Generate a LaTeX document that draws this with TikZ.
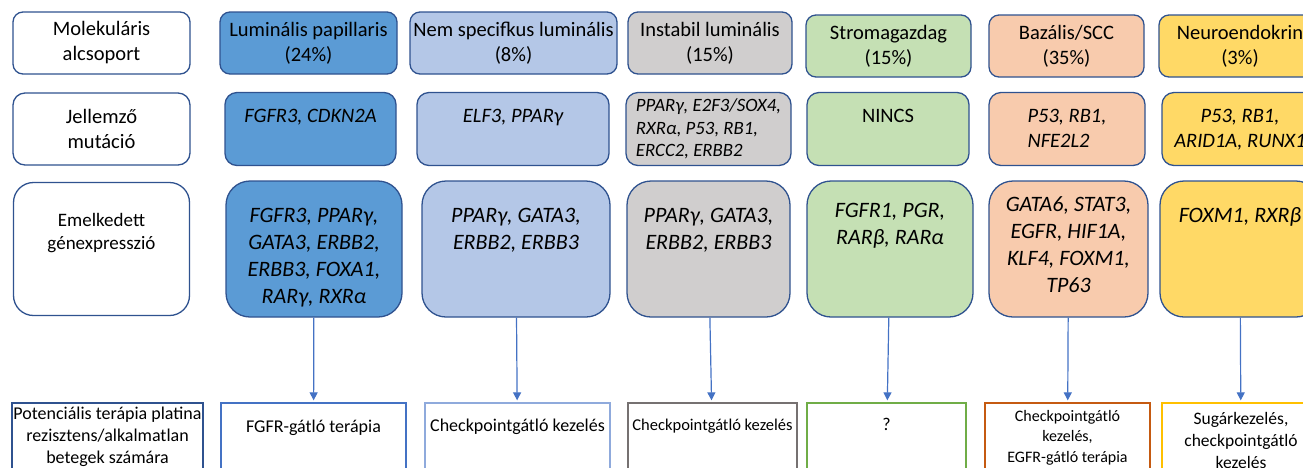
\documentclass[tikz,border=0pt]{standalone}
\usepackage{fontspec}
\setmainfont{Carlito}
\usepackage{xcolor}
\usetikzlibrary{positioning,arrows.meta}

\definecolor{edgeblue}{HTML}{2F528F}
\definecolor{arrowblue}{HTML}{4472C4}
\definecolor{lpfill}{HTML}{5B9BD5}
\definecolor{nsfill}{HTML}{B4C7E7}
\definecolor{ilfill}{HTML}{D0CECE}
\definecolor{sgfill}{HTML}{C5E0B4}
\definecolor{bsfill}{HTML}{F8CBAD}
\definecolor{nefill}{HTML}{FFD966}
\definecolor{lpedge}{HTML}{4472C4}
\definecolor{nsedge}{HTML}{8FAADC}
\definecolor{iledge}{HTML}{767171}
\definecolor{sgedge}{HTML}{70AD47}
\definecolor{bsedge}{HTML}{C55A11}
\definecolor{needge}{HTML}{FFC000}

% lines hanging from the first baseline
\newcommand{\ctext}[1]{\begin{tabular}[t]{@{}c@{}}#1\end{tabular}}
\newcommand{\ltext}[1]{\begin{tabular}[t]{@{}l@{}}#1\end{tabular}}

\begin{document}
\begin{tikzpicture}[node distance=10pt,on grid,
    box/.style={draw=edgeblue,line width=1.3pt,inner sep=0pt,align=center},
    lab/.style={box,fill=white,minimum width=177pt,font=\fontsize{20.5}{25}\selectfont},
    grp/.style={box,rounded corners=10pt,minimum height=62pt,font=\fontsize{20.5}{25}\selectfont},
    mut/.style={box,rounded corners=12pt,text height=30pt,text depth=43pt,font=\fontsize{20.5}{24.5}\selectfont\itshape},
    expr/.style={box,rounded corners=24pt,text height=41pt,text depth=95pt,font=\fontsize{22}{27}\selectfont\itshape},
    ther/.style={draw,line width=1.3pt,inner sep=0pt,align=center,text height=28pt,text depth=62pt,font=\fontsize{18}{22}\selectfont},
    arr/.style={color=arrowblue,line width=1.2pt,-{Triangle[width=8pt,length=8pt]},shorten >=2pt}]
  \useasboundingbox (0,0) rectangle (1303pt,-467pt);
  % subgroups
  \node[grp,lab] (lab1) at (101.5pt,-43pt) {Molekuláris\\alcsoport};
  \node[grp,fill=lpfill,minimum width=177pt,right=207pt of lab1] (lp1) {Luminális papillaris\\(24\%)};
  \node[grp,fill=nsfill,minimum width=207pt,right=205pt of lp1] (ns1) {Nem specifkus luminális\\(8\%)};
  \node[grp,fill=ilfill,minimum width=164pt,right=196.5pt of ns1] (il1) {Instabil luminális\\(15\%)};
  \node[grp,fill=sgfill,minimum width=165pt,right=178.5pt of il1,yshift=-3pt] (sg1) {Stromagazdag\\(15\%)};
  \node[grp,fill=bsfill,minimum width=155pt,right=178pt of sg1] (bs1) {Bazális/SCC\\(35\%)};
  \node[grp,fill=nefill,minimum width=162pt,right=173.5pt of bs1] (ne1) {Neuroendokrin\\(3\%)};
  % mutations
  \node[lab,rounded corners=12pt,minimum height=72pt,below=86pt of lab1] (lab2) {Jellemző\\mutáció};
  \node[mut,fill=lpfill,minimum width=171pt,right=209pt of lab2] (lp2) {FGFR3, CDKN2A};
  \node[mut,fill=nsfill,minimum width=192pt,right=202.5pt of lp2] (ns2) {ELF3, PPARγ};
  \node[mut,fill=ilfill,minimum width=165pt,text height=19pt,text depth=54pt,font=\fontsize{18.8}{22.5}\selectfont\itshape,right=195.5pt of ns2] (il2) {\ltext{PPARγ, E2F3/SOX4,\\RXRα, P53, RB1,\\ERCC2, ERBB2}};
  \node[mut,fill=sgfill,minimum width=162pt,font=\fontsize{20.5}{24.5}\selectfont,right=179.5pt of il2] (sg2) {NINCS};
  \node[mut,fill=bsfill,minimum width=156pt,right=179pt of sg2] (bs2) {\ltext{P53, RB1,\\NFE2L2}};
  \node[mut,fill=nefill,minimum width=156pt,right=173pt of bs2] (ne2) {\ctext{P53, RB1,\\ARID1A, RUNX1}};
  % expression
  \node[lab,rounded corners=20pt,minimum width=176pt,text height=44pt,text depth=89pt,font=\fontsize{19}{23}\selectfont,below=120pt of lab2] (lab3) {\ctext{Emelkedett\\génexpresszió}};
  \node[expr,fill=lpfill,minimum width=176pt,right=212.5pt of lab3] (lp3) {\ctext{FGFR3, PPARγ,\\GATA3, ERBB2,\\ERBB3, FOXA1,\\RARγ, RXRα}};
  \node[expr,fill=nsfill,minimum width=188pt,right=202pt of lp3] (ns3) {\ctext{PPARγ, GATA3,\\ERBB2, ERBB3}};
  \node[expr,fill=ilfill,minimum width=163pt,right=192.5pt of ns3] (il3) {\ctext{PPARγ, GATA3,\\ERBB2, ERBB3}};
  \node[expr,fill=sgfill,minimum width=166pt,text height=36pt,text depth=100pt,right=181.5pt of il3] (sg3) {\ctext{FGFR1, PGR,\\RARβ, RARα}};
  \node[expr,fill=bsfill,minimum width=159pt,text height=30pt,text depth=106pt,right=178.5pt of sg3] (bs3) {\ctext{GATA6, STAT3,\\EGFR, HIF1A,\\KLF4, FOXM1,\\TP63}};
  \node[expr,fill=nefill,minimum width=160pt,right=171.5pt of bs3] (ne3) {FOXM1, RXRβ};
  % therapy
  \node[ther,draw=edgeblue,line width=2pt,minimum width=191pt,text height=16pt,text depth=74pt,below=199pt of lab3,xshift=6pt] (lab4) {\ctext{Potenciális terápia platina\\rezisztens/alkalmatlan\\betegek számára}};
  \node[ther,draw=lpedge,minimum width=185pt,text height=29pt,text depth=61pt,right=206pt of lab4] (lp4) {FGFR-gátló terápia};
  \node[ther,draw=nsedge,minimum width=185pt,right=204pt of lp4] (ns4) {Checkpointgátló kezelés};
  \node[ther,draw=iledge,minimum width=169pt,text height=27pt,text depth=63pt,font=\fontsize{16.5}{20}\selectfont,right=195pt of ns4] (il4) {Checkpointgátló kezelés};
  \node[ther,draw=sgedge,minimum width=159pt,text height=27pt,text depth=63pt,right=174pt of il4] (sg4) {?};
  \node[ther,draw=bsedge,minimum width=165pt,text height=18pt,text depth=72pt,font=\fontsize{16}{20.5}\selectfont,right=181pt of sg4] (bs4) {\ctext{Checkpointgátló\\kezelés,\\EGFR-gátló terápia}};
  \node[ther,draw=needge,minimum width=158pt,text height=21pt,text depth=69pt,font=\fontsize{17.5}{22}\selectfont,right=173.5pt of bs4] (ne4) {\ctext{Sugárkezelés,\\checkpointgátló\\kezelés}};
  \path[arr]
  (lp3) edge (lp4)
  (ns3) edge (ns4)
  (il3) edge (il4)
  (sg3) edge (sg4)
  (bs3) edge (bs4)
  (ne3) edge (ne4)
  ;
\end{tikzpicture}
\end{document}
